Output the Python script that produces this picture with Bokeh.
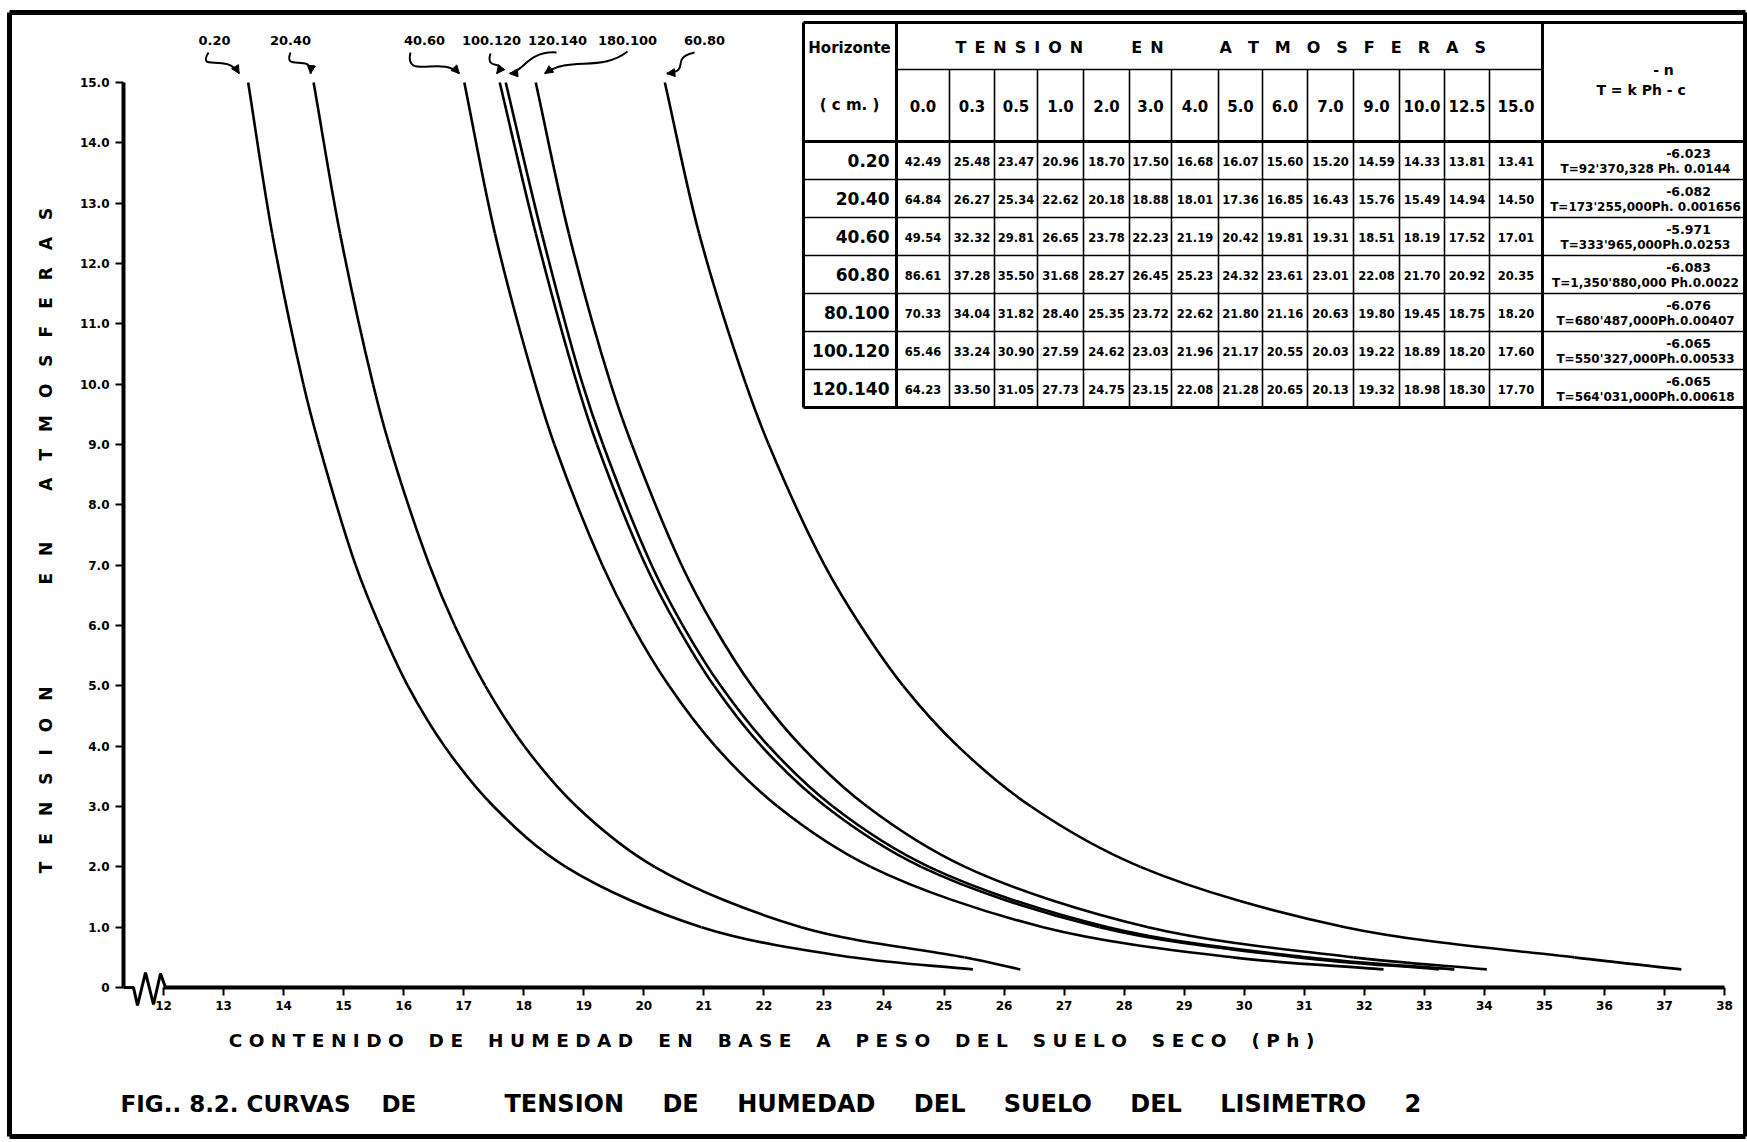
import math
from bokeh.plotting import figure
from bokeh.models import Range1d, FixedTicker, ColumnDataSource, Arrow, NormalHead
from bokeh.core.properties import value
from bokeh.embed import file_html
from bokeh.resources import INLINE

# ---------------------------------------------------------------- data
tension_atm = [0.0, 0.3, 0.5, 1.0, 2.0, 3.0, 4.0, 5.0, 6.0, 7.0, 9.0, 10.0, 12.5, 15.0]
tension_heads = ["0.0", "0.3", "0.5", "1.0", "2.0", "3.0", "4.0", "5.0", "6.0",
                 "7.0", "9.0", "10.0", "12.5", "15.0"]
horizons = ["0.20", "20.40", "40.60", "60.80", "80.100", "100.120", "120.140"]

ph_0_20 = [42.49, 25.48, 23.47, 20.96, 18.70, 17.50, 16.68, 16.07, 15.60, 15.20, 14.59, 14.33, 13.81, 13.41]
ph_20_40 = [64.84, 26.27, 25.34, 22.62, 20.18, 18.88, 18.01, 17.36, 16.85, 16.43, 15.76, 15.49, 14.94, 14.50]
ph_40_60 = [49.54, 32.32, 29.81, 26.65, 23.78, 22.23, 21.19, 20.42, 19.81, 19.31, 18.51, 18.19, 17.52, 17.01]
ph_60_80 = [86.61, 37.28, 35.50, 31.68, 28.27, 26.45, 25.23, 24.32, 23.61, 23.01, 22.08, 21.70, 20.92, 20.35]
ph_80_100 = [70.33, 34.04, 31.82, 28.40, 25.35, 23.72, 22.62, 21.80, 21.16, 20.63, 19.80, 19.45, 18.75, 18.20]
ph_100_120 = [65.46, 33.24, 30.90, 27.59, 24.62, 23.03, 21.96, 21.17, 20.55, 20.03, 19.22, 18.89, 18.20, 17.60]
ph_120_140 = [64.23, 33.50, 31.05, 27.73, 24.75, 23.15, 22.08, 21.28, 20.65, 20.13, 19.32, 18.98, 18.30, 17.70]

exponents = ["-6.023", "-6.082", "-5.971", "-6.083", "-6.076", "-6.065", "-6.065"]
equations = ["T=92'370,328 Ph. 0.0144", "T=173'255,000Ph. 0.001656", "T=333'965,000Ph.0.0253",
             "T=1,350'880,000 Ph.0.0022", "T=680'487,000Ph.0.00407", "T=550'327,000Ph.0.00533",
             "T=564'031,000Ph.0.00618"]

curve_tags = ["0.20", "20.40", "40.60", "100.120", "120.140", "180.100", "60.80"]
curve_tag_horizon = ["0.20", "20.40", "40.60", "100.120", "120.140", "80.100", "60.80"]

x_ticks = list(range(12, 39))
y_ticks = list(range(0, 16))

ph_by_horizon = dict(zip(horizons, [ph_0_20, ph_20_40, ph_40_60, ph_60_80,
                                    ph_80_100, ph_100_120, ph_120_140]))

# ---------------------------------------------------------------- page geometry
W, H = 1747, 1142
X12_PX, X_UNIT = 163.0, 60.04      # pixel of Ph = 12 and pixels per Ph unit
Y0_PX, Y_UNIT = 987.0, 60.33       # pixel of T = 0 and pixels per atmosphere


def X(px):
    return 12 + (px - X12_PX) / X_UNIT


def Y(py):
    return (Y0_PX - py) / Y_UNIT


FONT = value("DejaVu Sans")

p = figure(width=W, height=H, x_range=Range1d(X(0), X(W)), y_range=Range1d(Y(H), Y(0)),
           output_backend="svg", toolbar_location=None, title=None,
           min_border=0, min_border_left=0, min_border_right=0,
           min_border_top=0, min_border_bottom=0,
           background_fill_color="white", border_fill_color="white",
           outline_line_color=None)
p.xgrid.visible = False
p.ygrid.visible = False

# ---------------------------------------------------------------- axes
for ax in (p.xaxis[0], p.yaxis[0]):
    ax.axis_line_width = 4
    ax.axis_line_color = "black"
    ax.major_tick_line_width = 2
    ax.major_tick_line_color = "black"
    ax.major_tick_out = 8
    ax.major_tick_in = 0
    ax.minor_tick_out = 0
    ax.minor_tick_in = 0
    ax.major_label_text_font = "DejaVu Sans"
    ax.major_label_text_font_style = "bold"
    ax.major_label_text_font_size = "12px"
    ax.major_label_text_color = "black"

p.xaxis.fixed_location = 0
p.xaxis.bounds = (12, 38)
p.xaxis.ticker = FixedTicker(ticks=x_ticks)
p.xaxis.major_label_standoff = 5

p.yaxis.fixed_location = X(123)
p.yaxis.bounds = (0, 15)
p.yaxis.ticker = FixedTicker(ticks=y_ticks)
p.yaxis.major_label_standoff = 6
p.yaxis.major_label_overrides = {t: ("0" if t == 0 else f"{t}.0") for t in y_ticks}

# axis break at the origin
brk_px = [(123, 987), (133, 987), (137, 1005), (145, 972), (153, 1004), (160, 973), (165, 987)]
p.line([X(a) for a, b in brk_px], [Y(b) for a, b in brk_px], line_color="black", line_width=3)


# ---------------------------------------------------------------- curves
def smooth_through(xs, ys, alpha=0.5):
    """Centripetal Catmull-Rom pieces through the table points, as cubic Bezier glyphs."""
    P = [(x * X_UNIT, y * Y_UNIT) for x, y in zip(xs, ys)]     # screen-proportional space
    n = len(P)
    ext = [(2 * P[0][0] - P[1][0], 2 * P[0][1] - P[1][1])] + P + \
          [(2 * P[-1][0] - P[-2][0], 2 * P[-1][1] - P[-2][1])]
    seg = dict(x0=[], y0=[], x1=[], y1=[], cx0=[], cy0=[], cx1=[], cy1=[])
    for i in range(1, n):
        p0, p1, p2, p3 = ext[i - 1], ext[i], ext[i + 1], ext[i + 2]
        d1 = math.dist(p0, p1) ** alpha
        d2 = math.dist(p1, p2) ** alpha
        d3 = math.dist(p2, p3) ** alpha
        c1 = [(d1 * d1 * p2[k] - d2 * d2 * p0[k] + (2 * d1 * d1 + 3 * d1 * d2 + d2 * d2) * p1[k])
              / (3 * d1 * (d1 + d2)) for k in (0, 1)]
        c2 = [(d3 * d3 * p1[k] - d2 * d2 * p3[k] + (2 * d3 * d3 + 3 * d3 * d2 + d2 * d2) * p2[k])
              / (3 * d3 * (d3 + d2)) for k in (0, 1)]
        seg["x0"].append(p1[0] / X_UNIT); seg["y0"].append(p1[1] / Y_UNIT)
        seg["x1"].append(p2[0] / X_UNIT); seg["y1"].append(p2[1] / Y_UNIT)
        seg["cx0"].append(c1[0] / X_UNIT); seg["cy0"].append(c1[1] / Y_UNIT)
        seg["cx1"].append(c2[0] / X_UNIT); seg["cy1"].append(c2[1] / Y_UNIT)
    return ColumnDataSource(seg)


for h in horizons:
    src = smooth_through(ph_by_horizon[h][1:], tension_atm[1:])
    p.bezier(x0="x0", y0="y0", x1="x1", y1="y1", cx0="cx0", cy0="cy0", cx1="cx1", cy1="cy1",
             source=src, line_color="black", line_width=2.6)

# curve tags with hand-drawn pointers
tag_px = [214, 290, 424, 491, 557, 627, 704]
tag_py = 40
tip_dx = [-9, -3, -5, -3, 4, 9, 2]
start_px = [(208, 52), (290, 52), (410, 52), (490, 53), (556, 52), (627, 51), (694, 52)]
c0_px = [(196, 72), (282, 72), (403, 80), (484, 72), (528, 50), (600, 72), (668, 58)]
c1_px = [(226, 52), (312, 52), (442, 55), (508, 58), (522, 72), (570, 55), (692, 70)]

tsrc = ColumnDataSource(dict(x=[X(v) for v in tag_px], y=[Y(tag_py)] * len(tag_px), t=curve_tags))
p.text(x="x", y="y", text="t", source=tsrc, text_font=FONT, text_font_style="bold",
       text_font_size="13px", text_align="center", text_baseline="middle", text_color="black")

for i, h in enumerate(curve_tag_horizon):
    top_x = ph_by_horizon[h][-1] + tip_dx[i] / X_UNIT
    top_y = tension_atm[-1] + 9 / Y_UNIT
    sx, sy = X(start_px[i][0]), Y(start_px[i][1])
    ax0, ay0 = X(c0_px[i][0]), Y(c0_px[i][1])
    ax1, ay1 = X(c1_px[i][0]), Y(c1_px[i][1])
    p.bezier(x0=[sx], y0=[sy], x1=[top_x], y1=[top_y], cx0=[ax0], cy0=[ay0], cx1=[ax1], cy1=[ay1],
             line_color="black", line_width=2)
    tx = (ax1 - top_x) * X_UNIT
    ty = (ay1 - top_y) * Y_UNIT
    n = math.hypot(tx, ty) or 1.0
    bx = top_x + tx / n * 6 / X_UNIT
    by = top_y + ty / n * 6 / Y_UNIT
    p.add_layout(Arrow(end=NormalHead(size=8, fill_color="black", line_color="black", line_width=1),
                       x_start=bx, y_start=by, x_end=top_x, y_end=top_y,
                       line_color="black", line_width=2))

# ---------------------------------------------------------------- table
T_LEFT, T_RIGHT = 803, 1745
HOR_RIGHT, FORM_LEFT = 896, 1542
col_edges = [896, 949, 994, 1037, 1083, 1129, 1171, 1218, 1262, 1307, 1353, 1399, 1444, 1489, 1542]
T_TOP, H1, H2, ROW_H = 22, 69, 141, 38
row_edges = [H2 + ROW_H * k for k in range(len(horizons) + 1)]
T_BOTTOM = row_edges[-1]


def segs(lines, width):
    p.segment(x0=[X(a[0]) for a in lines], y0=[Y(a[1]) for a in lines],
              x1=[X(a[2]) for a in lines], y1=[Y(a[3]) for a in lines],
              line_color="black", line_width=width)


thick = [(T_LEFT, T_TOP, T_RIGHT, T_TOP), (T_LEFT, H2, T_RIGHT, H2), (T_LEFT, T_BOTTOM, T_RIGHT, T_BOTTOM),
         (T_LEFT, T_TOP, T_LEFT, T_BOTTOM), (HOR_RIGHT, T_TOP, HOR_RIGHT, T_BOTTOM),
         (FORM_LEFT, T_TOP, FORM_LEFT, T_BOTTOM)]
thin = [(HOR_RIGHT, H1, FORM_LEFT, H1)]
thin += [(T_LEFT, r, T_RIGHT, r) for r in row_edges[1:-1]]
thin += [(c, H1, c, T_BOTTOM) for c in col_edges[1:-1]]
segs(thick, 3)
segs(thin, 1.6)


def put(xs, ys, texts, size, align="center", angle=0.0, style="bold"):
    src = ColumnDataSource(dict(x=[X(v) for v in xs], y=[Y(v) for v in ys], t=texts))
    p.text(x="x", y="y", text="t", source=src, text_font=FONT, text_font_style=style,
           text_font_size=size, text_align=align, text_baseline="middle", angle=angle,
           text_color="black")


EM, EN, HAIR = "\u2003", "\u2002", "\u200a"
put([849], [47], ["Horizonte"], "15px")
put([849], [104], ["( c m. )"], "15px")
put([955], [47],
    [EN.join("TENSION") + EM * 2 + EN * 2 + EN.join("EN") + EM * 3 + EN + EM.join("ATMOSFERAS")],
    "16px", align="left")
col_mid = [(col_edges[i] + col_edges[i + 1]) / 2 for i in range(len(tension_heads))]
put(col_mid, [105] * len(col_mid), tension_heads, "15px")
put([1663], [69], ["- n"], "14px")
put([1643], [89], ["T = k  Ph - c"], "14px")

row_mid = [(row_edges[i] + row_edges[i + 1]) / 2 for i in range(len(horizons))]
put([889] * len(horizons), row_mid, horizons, "17px", align="right")
vx, vy, vt = [], [], []
for i, h in enumerate(horizons):
    for j, v in enumerate(ph_by_horizon[h]):
        vx.append(col_mid[j])
        vy.append(row_mid[i] + 1)
        vt.append(f"{v:.2f}")
put(vx, vy, vt, "11.5px")
put([1688] * len(horizons), [r + 12 for r in row_edges[:-1]], exponents, "12.5px")
put([1645] * len(horizons), [r + 27 for r in row_edges[:-1]], equations, "12px")

# ---------------------------------------------------------------- titles
put([45], [540],
    [EM.join("TENSION") + EM * 6 + EM.join("EN") + EM * 3 + EM.join("ATMOSFERAS")],
    "17px", angle=math.pi / 2)
put([771], [1040],
    [(EM + " ").join(" ".join(w) for w in
                     ["CONTENIDO", "DE", "HUMEDAD", "EN", "BASE", "A", "PESO", "DEL", "SUELO", "SECO", "(Ph)"])],
    "18.5px")
put([120], [1103], ["FIG.. 8.2. CURVAS" + EM + " DE"], "23px", align="left")
put([504], [1103],
    [(EM + EN + HAIR).join(["TENSION", "DE", "HUMEDAD", "DEL", "SUELO", "DEL", "LISIMETRO", "2"])],
    "24px", align="left")

# page border
segs([(9, 12, 1745, 12), (9, 1136, 1745, 1136), (9, 12, 9, 1136), (1745, 12, 1745, 1136)], 5)

open("out.html", "w").write(file_html(p, INLINE))
